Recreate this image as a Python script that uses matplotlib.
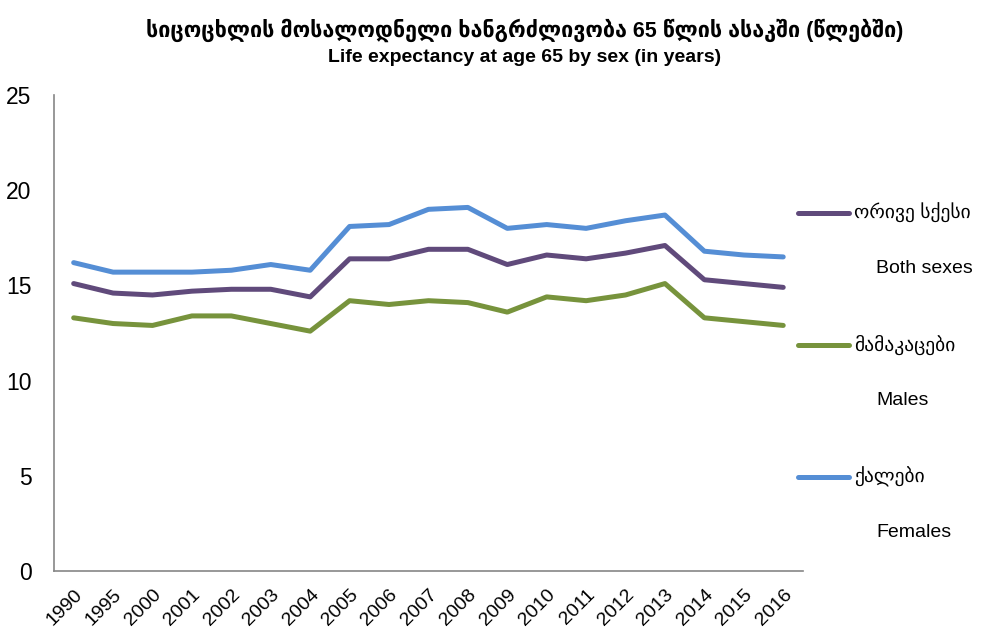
import matplotlib
matplotlib.use('Agg')
import matplotlib.pyplot as plt
from matplotlib.lines import Line2D

# data
years = ['1990', '1995', '2000', '2001', '2002', '2003', '2004', '2005', '2006', '2007',
         '2008', '2009', '2010', '2011', '2012', '2013', '2014', '2015', '2016']
both_sexes = [15.1, 14.6, 14.5, 14.7, 14.8, 14.8, 14.4, 16.4, 16.4, 16.9,
              16.9, 16.1, 16.6, 16.4, 16.7, 17.1, 15.3, 15.1, 14.9]
males = [13.3, 13.0, 12.9, 13.4, 13.4, 13.0, 12.6, 14.2, 14.0, 14.2,
         14.1, 13.6, 14.4, 14.2, 14.5, 15.1, 13.3, 13.1, 12.9]
females = [16.2, 15.7, 15.7, 15.7, 15.8, 16.1, 15.8, 18.1, 18.2, 19.0,
           19.1, 18.0, 18.2, 18.0, 18.4, 18.7, 16.8, 16.6, 16.5]

series = [
    ('ორივე სქესი', 'Both sexes', both_sexes, '#604a7b'),
    ('მამაკაცები', 'Males', males, '#77933c'),
    ('ქალები', 'Females', females, '#558ed5'),
]

plt.rcParams['font.family'] = ['Liberation Sans', 'DejaVu Sans']

fig = plt.figure(figsize=(9.92, 6.3), dpi=100)
ax = fig.add_axes([0.0544, 0.0937, 0.755, 0.7553])

x = list(range(len(years)))
for ka, en, vals, col in series:
    ax.plot(x, vals, color=col, linewidth=3.6, solid_capstyle='round')

ax.set_xlim(-0.5, len(years) - 0.5)
ax.set_ylim(0, 25)
ax.set_yticks([0, 5, 10, 15, 20, 25])
ax.set_xticks(x)
ax.set_xticklabels(years, rotation=45, ha='right', rotation_mode='anchor')
ax.tick_params(axis='y', length=0, labelsize=16.5, pad=16)
ax.tick_params(axis='x', length=0, labelsize=14, pad=11)
for s in ['top', 'right']:
    ax.spines[s].set_visible(False)
for s in ['left', 'bottom']:
    ax.spines[s].set_color('#868686')
    ax.spines[s].set_linewidth(1.2)

# title
fig.text(0.529, 0.952, 'სიცოცხლის მოსალოდნელი ხანგრძლივობა 65 წლის ასაკში (წლებში)',
         ha='center', va='center', fontsize=15.5, fontweight='bold')
fig.text(0.529, 0.909, 'Life expectancy at age 65 by sex (in years)',
         ha='center', va='center', fontsize=14, fontweight='bold')

# legend drawn on the right
leg_y = [0.662, 0.452, 0.243]
for (ka, en, vals, col), yy in zip(series, leg_y):
    fig.add_artist(Line2D([0.804, 0.856], [yy, yy], color=col, linewidth=3.6,
                          solid_capstyle='round', transform=fig.transFigure))
    fig.text(0.861, yy, ka, ha='left', va='center', fontsize=14)
    fig.text(0.883, yy - 0.088, en, ha='left', va='center', fontsize=14)

fig.savefig('out.png', dpi=100)
